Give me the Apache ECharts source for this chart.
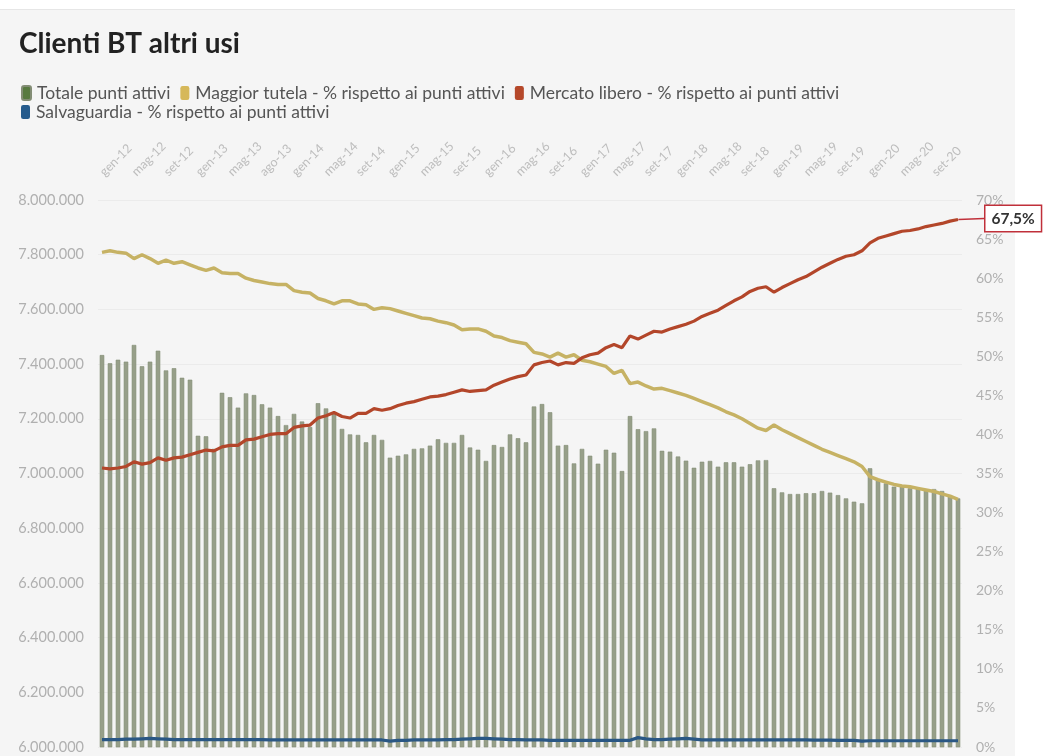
<!DOCTYPE html>
<html>
<head>
<meta charset="utf-8">
<script src="https://cdn.jsdelivr.net/npm/echarts@6/dist/echarts.min.js"></script>
<style>
  html, body { margin: 0; padding: 0; background: #ffffff; }
  #wrap { position: relative; width: 1046px; height: 756px; overflow: hidden; }
  #bg { position: absolute; left: 0; top: 9px; width: 1015px; height: 747px; background: #f5f5f5; border-top: 1px solid #e6e6e6; box-sizing: border-box; }
  #chart { position: absolute; left: 0; top: 0; width: 1046px; height: 756px; }
</style>
</head>
<body>
<div id="wrap"><div id="bg"></div><div id="chart"></div></div>
<script>
const categories = [
  'gen-12','feb-12','mar-12','apr-12','mag-12','giu-12','lug-12','ago-12','set-12','ott-12','nov-12','dic-12',
  'gen-13','feb-13','mar-13','apr-13','mag-13','giu-13','lug-13','ago-13','ago-13','ott-13','nov-13','dic-13',
  'gen-14','feb-14','mar-14','apr-14','mag-14','giu-14','lug-14','ago-14','set-14','ott-14','nov-14','dic-14',
  'gen-15','feb-15','mar-15','apr-15','mag-15','giu-15','lug-15','ago-15','set-15','ott-15','nov-15','dic-15',
  'gen-16','feb-16','mar-16','apr-16','mag-16','giu-16','lug-16','ago-16','set-16','ott-16','nov-16','dic-16',
  'gen-17','feb-17','mar-17','apr-17','mag-17','giu-17','lug-17','ago-17','set-17','ott-17','nov-17','dic-17',
  'gen-18','feb-18','mar-18','apr-18','mag-18','giu-18','lug-18','ago-18','set-18','ott-18','nov-18','dic-18',
  'gen-19','feb-19','mar-19','apr-19','mag-19','giu-19','lug-19','ago-19','set-19','ott-19','nov-19','dic-19',
  'gen-20','feb-20','mar-20','apr-20','mag-20','giu-20','lug-20','ago-20','set-20','ott-20','nov-20','dic-20'
];

const totalePuntiAttivi = [
  7433000,7403000,7416000,7409000,7470000,7392000,7409000,7449000,7377000,7385000,7350000,7343000,
  7138000,7136000,7090000,7295000,7279000,7241000,7293000,7287000,7253000,7241000,7210000,7177000,
  7218000,7190000,7170000,7257000,7238000,7220000,7163000,7143000,7141000,7114000,7141000,7123000,
  7058000,7065000,7070000,7090000,7092000,7102000,7125000,7112000,7112000,7141000,7095000,7087000,
  7046000,7104000,7097000,7143000,7129000,7114000,7245000,7254000,7224000,7102000,7104000,7037000,
  7090000,7065000,7036000,7087000,7076000,7009000,7210000,7162000,7155000,7165000,7083000,7080000,
  7062000,7047000,7021000,7043000,7046000,7025000,7041000,7041000,7025000,7034000,7048000,7049000,
  6946000,6931000,6925000,6925000,6928000,6928000,6936000,6930000,6921000,6909000,6897000,6891000,
  7019000,6976000,6964000,6952000,6952000,6946000,6946000,6940000,6943000,6936000,6921000,6909000
];

const maggiorTutela = [
  63.3,63.5,63.3,63.2,62.5,63.0,62.5,61.9,62.3,61.9,62.1,61.7,
  61.3,61.0,61.3,60.7,60.6,60.6,60.0,59.7,59.5,59.3,59.2,59.2,
  58.4,58.2,58.1,57.4,57.1,56.7,57.1,57.1,56.7,56.6,56.0,56.2,
  56.1,55.8,55.5,55.2,54.9,54.8,54.5,54.3,54.0,53.4,53.5,53.5,
  53.2,52.6,52.4,52.0,51.8,51.6,50.5,50.3,49.9,50.4,49.9,50.2,
  49.5,49.3,49.0,48.7,47.8,48.2,46.5,46.7,46.2,45.8,45.9,45.6,
  45.3,45.0,44.6,44.2,43.8,43.4,42.9,42.5,42.0,41.4,40.8,40.5,
  41.2,40.6,40.1,39.6,39.1,38.6,38.1,37.7,37.3,36.9,36.5,35.9,
  34.6,34.2,33.9,33.6,33.4,33.3,33.1,32.9,32.7,32.4,32.1,31.7
];

const mercatoLibero = [
  35.7,35.6,35.7,35.9,36.5,36.2,36.4,37.0,36.7,37.0,37.1,37.4,
  37.7,38.0,37.9,38.4,38.6,38.6,39.3,39.4,39.7,40.0,40.1,40.1,
  40.9,41.1,41.2,42.1,42.4,42.8,42.3,42.1,42.7,42.7,43.3,43.1,
  43.3,43.7,44.0,44.2,44.5,44.8,44.9,45.1,45.4,45.7,45.5,45.6,
  45.7,46.3,46.7,47.1,47.4,47.6,48.9,49.2,49.4,48.9,49.2,49.1,
  49.8,50.2,50.4,51.1,51.5,51.1,52.6,52.2,52.7,53.2,53.1,53.5,
  53.8,54.1,54.5,55.1,55.5,55.9,56.5,57.1,57.6,58.3,58.7,58.9,
  58.2,58.8,59.3,59.8,60.2,60.8,61.4,61.9,62.4,62.8,63.0,63.5,
  64.5,65.1,65.4,65.7,66.0,66.1,66.3,66.6,66.8,67.0,67.3,67.5
];

const salvaguardia = [
  0.95,0.95,0.95,1.0,1.0,1.05,1.1,1.05,1.0,0.95,0.95,0.95,
  0.95,0.95,0.95,0.95,0.95,0.95,0.95,0.95,0.95,0.9,0.9,0.9,
  0.9,0.9,0.9,0.9,0.9,0.9,0.9,0.9,0.9,0.9,0.9,0.9,
  0.75,0.85,0.85,0.9,0.9,0.9,0.9,0.95,0.95,1.0,1.05,1.1,
  1.1,1.05,1.0,0.95,0.95,0.9,0.9,0.9,0.85,0.85,0.85,0.85,
  0.85,0.85,0.85,0.85,0.85,0.85,0.85,1.2,1.05,0.95,0.95,1.0,
  1.05,1.1,1.0,0.9,0.9,0.9,0.9,0.9,0.9,0.9,0.9,0.9,
  0.9,0.9,0.9,0.9,0.9,0.88,0.88,0.88,0.86,0.86,0.85,0.75,
  0.8,0.8,0.8,0.8,0.8,0.8,0.8,0.8,0.8,0.8,0.8,0.8
];

const lastLabel = '67,5%';

const FONT = 'Lato, "Noto Sans", sans-serif';
const chart = echarts.init(document.getElementById('chart'), null, { renderer: 'canvas' });

function fmtThousands(v) {
  return String(Math.round(v)).replace(/\B(?=(\d{3})+(?!\d))/g, '.');
}

const lastIdx = mercatoLibero.length - 1;
const mlData = mercatoLibero.map((v, i) => i === lastIdx ? {
  value: v,
  symbol: 'circle', symbolSize: 1,
  label: {
    show: true, position: 'right', distance: 0, formatter: lastLabel,
    backgroundColor: '#ffffff', borderColor: '#c0303a', borderWidth: 1.5,
    padding: [5, 6, 4, 6], color: '#333333', fontSize: 15.5, fontWeight: 'bold', fontFamily: FONT
  },
  labelLine: { show: true, lineStyle: { color: '#c0303a', width: 1.5 } }
} : v);

const legendText = { fontFamily: FONT, fontSize: 17.5, color: '#555555', padding: [0, 0, 0, 1] };
const names = [
  'Totale punti attivi',
  'Maggior tutela - % rispetto ai punti attivi',
  'Mercato libero - % rispetto ai punti attivi',
  'Salvaguardia - % rispetto ai punti attivi'
];
const legendColors = ['#587a40', '#d6b85a', '#b5482a', '#255b8c'];

chart.setOption({
  animation: false,
  textStyle: { fontFamily: FONT },
  title: {
    text: 'Clienti BT altri usi', left: 14, top: 25,
    textStyle: { fontFamily: FONT, fontSize: 28, fontWeight: 'bold', color: '#222222' }
  },
  legend: [
    {
      left: 16, top: 79, itemGap: 10, itemWidth: 9, itemHeight: 14, icon: 'roundRect',
      textStyle: legendText,
      data: [0, 1, 2].map(k => ({ name: names[k], itemStyle: { color: legendColors[k] } }))
    },
    {
      left: 16, top: 98, itemGap: 10, itemWidth: 9, itemHeight: 14, icon: 'roundRect',
      textStyle: legendText,
      data: [3].map(k => ({ name: names[k], itemStyle: { color: legendColors[k] } }))
    }
  ],
  grid: { left: 98, right: 84, top: 200, bottom: 9, containLabel: false },
  xAxis: {
    type: 'category', position: 'top', data: categories, boundaryGap: true,
    axisLine: { show: false }, axisTick: { show: false },
    axisLabel: { interval: 3, rotate: 45, margin: 26, color: '#bdbdbd', fontSize: 12.5, fontFamily: FONT }
  },
  yAxis: [
    {
      type: 'value', min: 6000000, max: 8000000, interval: 200000,
      axisLine: { show: false }, axisTick: { show: false },
      axisLabel: { margin: 14, color: '#b0b0b0', fontSize: 14.5, fontFamily: FONT, formatter: fmtThousands },
      splitLine: { lineStyle: { color: '#ebebeb', width: 1 } }
    },
    {
      type: 'value', min: 0, max: 70, interval: 5,
      axisLine: { show: false }, axisTick: { show: false },
      axisLabel: { margin: 14, color: '#b0b0b0', fontSize: 14, fontFamily: FONT, formatter: '{value}%' },
      splitLine: { show: false }
    }
  ],
  series: [
    {
      name: names[0], type: 'bar', data: totalePuntiAttivi, barWidth: 4.5,
      itemStyle: { color: '#979f89', borderColor: '#838d75', borderWidth: 0.6 }, z: 1
    },
    {
      name: names[1], type: 'line', yAxisIndex: 1,
      data: maggiorTutela, symbol: 'none', lineStyle: { color: '#c6b264', width: 3.5 },
      itemStyle: { color: '#c6b264' }, z: 3
    },
    {
      name: names[2], type: 'line', yAxisIndex: 1,
      data: mlData, symbol: 'none', showSymbol: true, showAllSymbol: true,
      lineStyle: { color: '#b3462a', width: 3.2 },
      itemStyle: { color: '#b3462a' }, z: 4,
      labelLayout: { dx: 27, dy: -1 },
      labelLine: { show: true, lineStyle: { color: '#c0303a', width: 1.5 } }
    },
    {
      name: names[3], type: 'line', yAxisIndex: 1,
      data: salvaguardia, symbol: 'none', lineStyle: { color: '#2a5784', width: 3.2 },
      itemStyle: { color: '#2a5784' }, z: 5
    }
  ]
});
</script>
</body>
</html>
